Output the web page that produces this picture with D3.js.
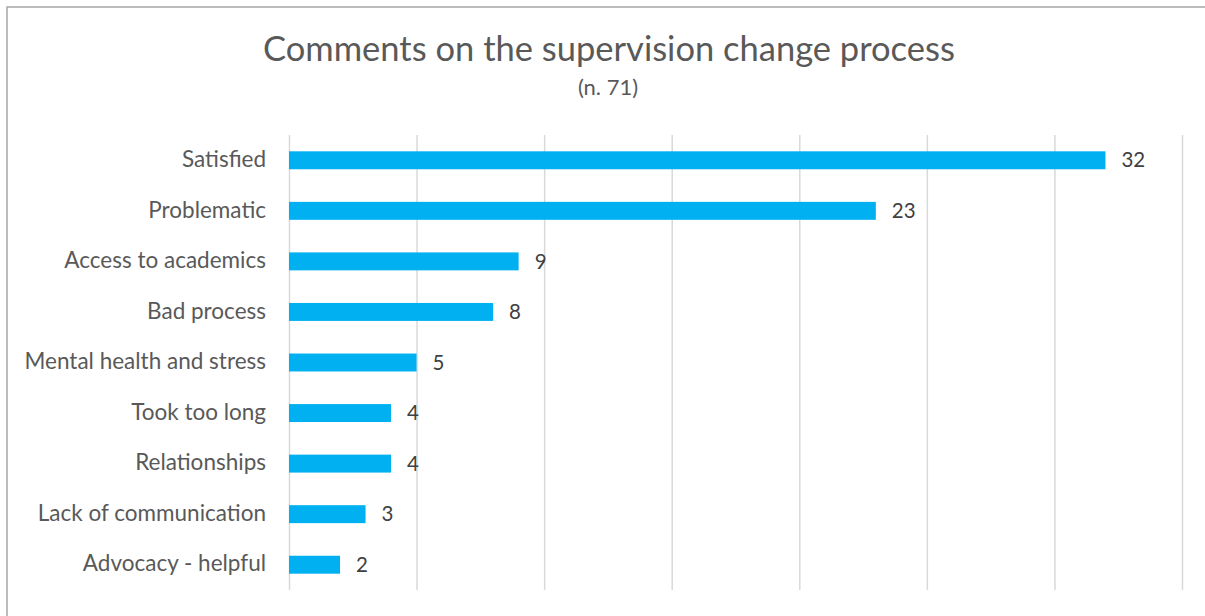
<!DOCTYPE html>
<html>
<head>
<meta charset="utf-8">
<script src="https://cdn.jsdelivr.net/npm/d3@7"></script>
<style>
  html, body { margin: 0; padding: 0; background: #fff; }
  svg { display: block; }
  text { font-family: Lato, "Open Sans", sans-serif; }
</style>
</head>
<body>
<svg id="chart" width="1205" height="616"></svg>
<script>
// Comment themes and their counts
const categories = [
  "Satisfied",
  "Problematic",
  "Access to academics",
  "Bad process",
  "Mental health and stress",
  "Took too long",
  "Relationships",
  "Lack of communication",
  "Advocacy - helpful"
];
const counts = [32, 23, 9, 8, 5, 4, 4, 3, 2];
const xTicks = [0, 5, 10, 15, 20, 25, 30, 35];

const svg = d3.select("#chart");
const W = 1205, H = 616;
const margin = { top: 135, right: 23, bottom: 26, left: 289 };
const innerW = W - margin.left - margin.right;
const innerH = H - margin.top - margin.bottom;

// Outer chart border (top and left edges)
svg.append("path")
  .attr("d", `M7,${H} L7,7 L${W},7`)
  .attr("fill", "none")
  .attr("stroke", "#a6a6a6")
  .attr("stroke-width", 1.5);

// Title and subtitle
svg.append("text")
  .attr("x", 609).attr("y", 61)
  .attr("text-anchor", "middle")
  .attr("fill", "#595959")
  .attr("font-size", 34.5)
  .text("Comments on the supervision change process");
svg.append("text")
  .attr("x", 608).attr("y", 95)
  .attr("text-anchor", "middle")
  .attr("fill", "#595959")
  .attr("font-size", 22)
  .text("(n. 71)");

const g = svg.append("g").attr("transform", `translate(${margin.left},${margin.top})`);

const x = d3.scaleLinear().domain([0, 35]).range([0, innerW]);
const y = d3.scaleBand().domain(categories).range([0, innerH]).paddingInner(0.645).paddingOuter(0.3225);

// Vertical gridlines
g.append("g")
  .attr("class", "grid")
  .call(d3.axisBottom(x).tickValues(xTicks).tickSize(innerH).tickFormat(""))
  .call(s => s.select(".domain").remove())
  .call(s => s.selectAll("line").attr("stroke", "#d9d9d9").attr("stroke-width", 1.5));

// Category axis labels
g.append("g")
  .call(d3.axisLeft(y).tickSize(0).tickPadding(23))
  .call(s => s.select(".domain").remove())
  .call(s => s.selectAll("text")
    .attr("fill", "#595959")
    .attr("font-size", 22.5)
    .attr("dy", "0.3em")
    .style("font-family", 'Lato, "Open Sans", sans-serif'));

const data = categories.map((c, i) => ({ c, v: counts[i] }));

// Bars
g.selectAll("rect.bar")
  .data(data)
  .join("rect")
  .attr("class", "bar")
  .attr("x", x(0))
  .attr("y", d => y(d.c))
  .attr("width", d => x(d.v) - x(0))
  .attr("height", y.bandwidth())
  .attr("fill", "#00b0f0");

// Value labels
g.selectAll("text.val")
  .data(data)
  .join("text")
  .attr("class", "val")
  .attr("x", d => x(d.v) + 16)
  .attr("y", d => y(d.c) + y.bandwidth() / 2)
  .attr("dy", "0.35em")
  .attr("fill", "#404040")
  .attr("font-size", 20.5)
  .text(d => d.v);
</script>
</body>
</html>
